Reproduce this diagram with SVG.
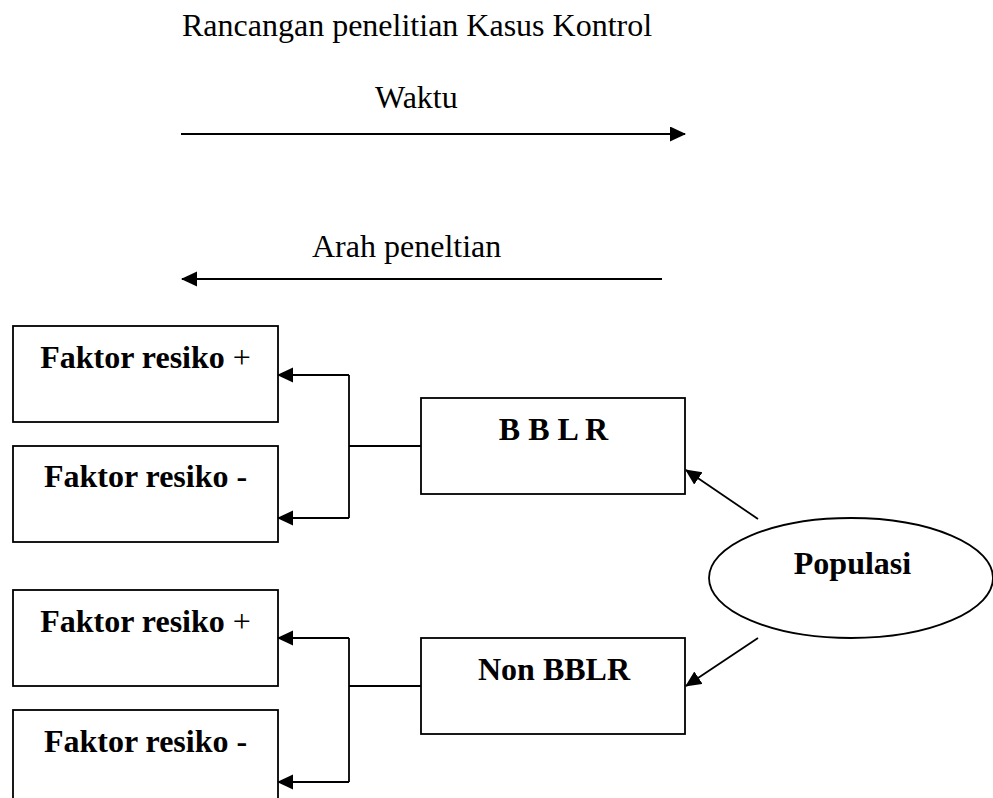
<svg xmlns="http://www.w3.org/2000/svg" width="993" height="798" viewBox="0 0 993 798">
<style>
  .t { font-family: "Liberation Serif", "Times New Roman", serif; font-size: 32px; fill: #000; }
  .b { font-weight: bold; }
  .n { font-weight: normal; }
  .box { fill: #fff; stroke: #000; stroke-width: 1.8; }
  .ln { fill: none; stroke: #000; stroke-width: 1.8; }
</style>
<defs>
  <marker id="ah" markerUnits="userSpaceOnUse" markerWidth="17" markerHeight="16" refX="15" refY="7.5" orient="auto">
    <path d="M0,0 L16,7.5 L0,15 z" fill="#000"/>
  </marker>
</defs>
<rect width="993" height="798" fill="#fff"/>
<text class="t" x="182" y="36">Rancangan penelitian Kasus Kontrol</text>
<text class="t" x="375" y="108">Waktu</text>
<text class="t" x="312" y="257">Arah peneltian</text>

<g id="node-f1">
  <rect class="box" x="13" y="326" width="265" height="96"/>
  <text class="t b" x="145.5" y="368" text-anchor="middle">Faktor resiko <tspan class="n">+</tspan></text>
</g>
<g id="node-f2">
  <rect class="box" x="13" y="446" width="265" height="96"/>
  <text class="t b" x="145.5" y="487" text-anchor="middle">Faktor resiko -</text>
</g>
<g id="node-f3">
  <rect class="box" x="13" y="590" width="265" height="96"/>
  <text class="t b" x="145.5" y="632" text-anchor="middle">Faktor resiko <tspan class="n">+</tspan></text>
</g>
<g id="node-f4">
  <rect class="box" x="13" y="710" width="265" height="100"/>
  <text class="t b" x="145.5" y="752" text-anchor="middle">Faktor resiko -</text>
</g>
<g id="node-bblr">
  <rect class="box" x="421" y="398" width="264" height="96"/>
  <text class="t b" x="553.5" y="440" text-anchor="middle">B B L R</text>
</g>
<g id="node-nonbblr">
  <rect class="box" x="421" y="638" width="264" height="96"/>
  <text class="t b" x="554" y="680" text-anchor="middle">Non BBLR</text>
</g>
<g id="node-populasi">
  <ellipse class="box" cx="851" cy="578" rx="142" ry="60"/>
  <text class="t b" x="852.5" y="574" text-anchor="middle">Populasi</text>
</g>

<g id="connectors">
  <line class="ln" x1="181" y1="134" x2="685" y2="134" marker-end="url(#ah)"/>
  <line class="ln" x1="662" y1="279" x2="182" y2="279" marker-end="url(#ah)"/>
  <polyline class="ln" points="421,446 349,446"/>
  <polyline class="ln" points="349,375 349,518"/>
  <line class="ln" x1="349" y1="375" x2="278" y2="375" marker-end="url(#ah)"/>
  <line class="ln" x1="349" y1="518" x2="278" y2="518" marker-end="url(#ah)"/>
  <polyline class="ln" points="421,686 349,686"/>
  <polyline class="ln" points="349,638 349,782"/>
  <line class="ln" x1="349" y1="638" x2="278" y2="638" marker-end="url(#ah)"/>
  <line class="ln" x1="349" y1="782" x2="278" y2="782" marker-end="url(#ah)"/>
  <line class="ln" x1="758" y1="519" x2="686" y2="470" marker-end="url(#ah)"/>
  <line class="ln" x1="758" y1="638" x2="686" y2="686" marker-end="url(#ah)"/>
</g>
</svg>
